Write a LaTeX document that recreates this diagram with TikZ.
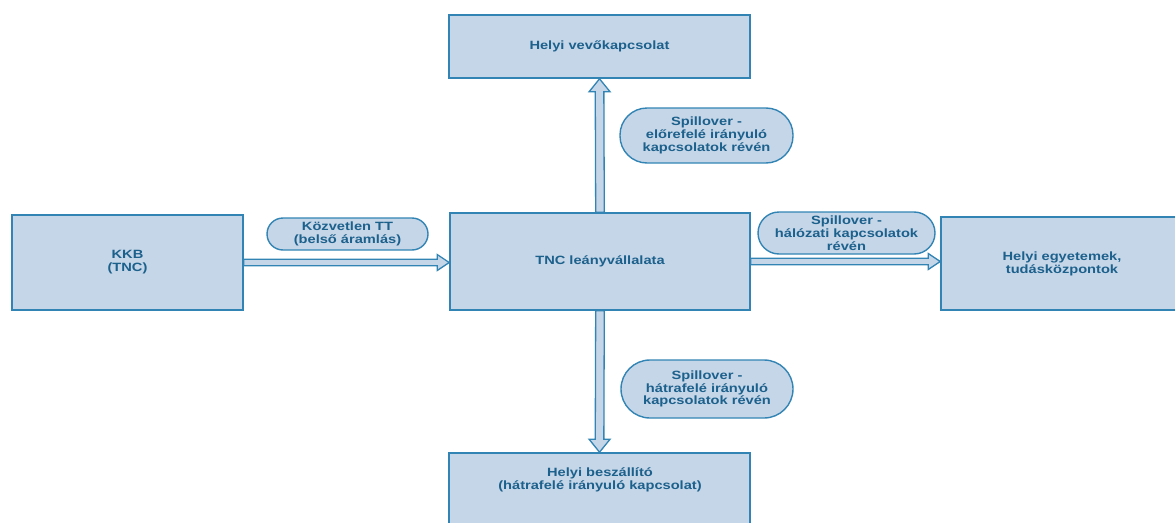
\documentclass[tikz,border=0pt]{standalone}
\usepackage{fontspec}
\setmainfont[FakeStretch=1.22]{Liberation Sans}
\usetikzlibrary{calc}
\definecolor{boxfill}{RGB}{197,214,232}
\definecolor{boxedge}{RGB}{50,132,180}
\definecolor{ink}{RGB}{28,96,140}
\begin{document}
\begin{tikzpicture}[x=1pt,y=-1pt,
  font=\fontsize{12}{12.8}\selectfont\bfseries,
  block/.style={draw=boxedge, fill=boxfill, line width=1.6pt, text=ink,
    align=center, inner sep=0pt},
  tag/.style={draw=boxedge, fill=boxfill, line width=1.4pt, text=ink,
    align=center, inner sep=0pt, rounded corners=#1},
  % block arrow outline: #1 half shaft width, #2/#3 distance and angle of the
  % shaft corners at the head, #4/#5 distance and angle of the head barbs
  flow/.style n args={5}{draw=boxedge, fill=boxfill, line width=1.3pt,
    line join=miter,
    to path={($(\tikztostart)!#1pt!-90:(\tikztotarget)$)
      -- ($(\tikztotarget)!#2pt!#3:(\tikztostart)$)
      -- ($(\tikztotarget)!#4pt!#5:(\tikztostart)$)
      -- (\tikztotarget)
      -- ($(\tikztotarget)!#4pt!-#5:(\tikztostart)$)
      -- ($(\tikztotarget)!#2pt!-#3:(\tikztostart)$)
      -- ($(\tikztostart)!#1pt!90:(\tikztotarget)$) -- cycle}},
  hflow/.style={flow={3.2}{12.419}{14.93}{14.422}{33.69}},
  vflow/.style={flow={4.3}{13.693}{18.30}{16.711}{38.93}}]
\useasboundingbox (0,0) rectangle (1175,522);

% main boxes
\node[block, minimum width=301pt, minimum height=63pt] (top) at (599.5,46.5)
  {Helyi vevőkapcsolat};
\node[block, minimum width=300pt, minimum height=97pt] (tnc) at (600,261.5)
  {TNC leányvállalata};
\node[block, minimum width=231pt, minimum height=95pt] (kkb) at (127.5,262.5)
  {KKB\\(TNC)};
\node[block, minimum width=242pt, minimum height=93pt] (uni) at (1062,263.5)
  {Helyi egyetemek,\\tudásközpontok};
\node[block, minimum width=301pt, minimum height=87pt] (bot) at (599.5,496.5) {};
\node[text=ink, align=center] (botlabel) at (600,480)
  {Helyi beszállító\\(hátrafelé irányuló kapcsolat)};

% flows between the boxes
\draw[vflow] (tnc.north) to (top.south);
\draw[vflow] (tnc.south) to (bot.north);
\draw[hflow] (kkb.east) to (kkb.east -| tnc.west);
\draw[hflow] (tnc.east) to (tnc.east -| uni.west);

% labels of the flows
\node[tag=16pt, minimum width=161pt, minimum height=32pt] (direct) at (347.5,234)
  {Közvetlen TT\\(belső áramlás)};
\node[tag=27pt, minimum width=173pt, minimum height=55pt] (fwd) at (706.5,135.5)
  {Spillover -\\előrefelé irányuló\\kapcsolatok révén};
\node[tag=21pt, minimum width=177pt, minimum height=42pt] (net) at (846.5,233)
  {Spillover -\\hálózati kapcsolatok\\révén};
\node[tag=29pt, minimum width=172pt, minimum height=58pt] (bwd) at (707,389)
  {Spillover -\\hátrafelé irányuló\\kapcsolatok révén};
\end{tikzpicture}
\end{document}
